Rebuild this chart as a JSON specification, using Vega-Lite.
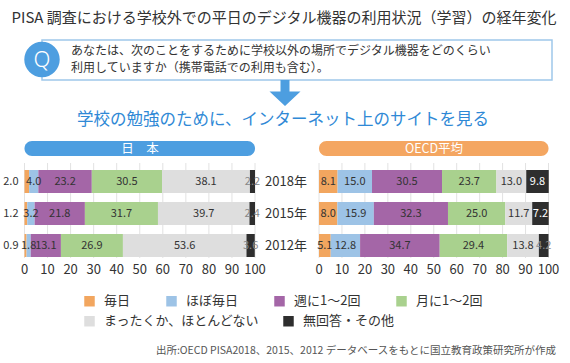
{
  "$schema": "https://vega.github.io/schema/vega-lite/v6.json",
  "width": 570,
  "height": 258,
  "padding": 0,
  "background": "white",
  "config": {
    "font": "Noto Sans CJK JP",
    "view": {"stroke": null},
    "legend": {"labelFont": "Noto Sans CJK JP"},
    "text": {"font": "Noto Sans CJK JP"}
  },
  "datasets": {
    "ticks": [{"t": 0}, {"t": 10}, {"t": 20}, {"t": 30}, {"t": 40}, {"t": 50}, {"t": 60}, {"t": 70}, {"t": 80}, {"t": 90}, {"t": 100}]
  },
  "data": {
    "values": [
      {"c": "日本", "y": "2018年", "cat": "毎日", "v": 2.0},
      {"c": "日本", "y": "2018年", "cat": "ほぼ毎日", "v": 4.0},
      {"c": "日本", "y": "2018年", "cat": "週に1～2回", "v": 23.2},
      {"c": "日本", "y": "2018年", "cat": "月に1～2回", "v": 30.5},
      {"c": "日本", "y": "2018年", "cat": "まったくか、ほとんどない", "v": 38.1},
      {"c": "日本", "y": "2018年", "cat": "無回答・その他", "v": 2.2},
      {"c": "日本", "y": "2015年", "cat": "毎日", "v": 1.2},
      {"c": "日本", "y": "2015年", "cat": "ほぼ毎日", "v": 3.2},
      {"c": "日本", "y": "2015年", "cat": "週に1～2回", "v": 21.8},
      {"c": "日本", "y": "2015年", "cat": "月に1～2回", "v": 31.7},
      {"c": "日本", "y": "2015年", "cat": "まったくか、ほとんどない", "v": 39.7},
      {"c": "日本", "y": "2015年", "cat": "無回答・その他", "v": 2.4},
      {"c": "日本", "y": "2012年", "cat": "毎日", "v": 0.9},
      {"c": "日本", "y": "2012年", "cat": "ほぼ毎日", "v": 1.8},
      {"c": "日本", "y": "2012年", "cat": "週に1～2回", "v": 13.1},
      {"c": "日本", "y": "2012年", "cat": "月に1～2回", "v": 26.9},
      {"c": "日本", "y": "2012年", "cat": "まったくか、ほとんどない", "v": 53.6},
      {"c": "日本", "y": "2012年", "cat": "無回答・その他", "v": 3.6},
      {"c": "OECD平均", "y": "2018年", "cat": "毎日", "v": 8.1},
      {"c": "OECD平均", "y": "2018年", "cat": "ほぼ毎日", "v": 15.0},
      {"c": "OECD平均", "y": "2018年", "cat": "週に1～2回", "v": 30.5},
      {"c": "OECD平均", "y": "2018年", "cat": "月に1～2回", "v": 23.7},
      {"c": "OECD平均", "y": "2018年", "cat": "まったくか、ほとんどない", "v": 13.0},
      {"c": "OECD平均", "y": "2018年", "cat": "無回答・その他", "v": 9.8},
      {"c": "OECD平均", "y": "2015年", "cat": "毎日", "v": 8.0},
      {"c": "OECD平均", "y": "2015年", "cat": "ほぼ毎日", "v": 15.9},
      {"c": "OECD平均", "y": "2015年", "cat": "週に1～2回", "v": 32.3},
      {"c": "OECD平均", "y": "2015年", "cat": "月に1～2回", "v": 25.0},
      {"c": "OECD平均", "y": "2015年", "cat": "まったくか、ほとんどない", "v": 11.7},
      {"c": "OECD平均", "y": "2015年", "cat": "無回答・その他", "v": 7.2},
      {"c": "OECD平均", "y": "2012年", "cat": "毎日", "v": 5.1},
      {"c": "OECD平均", "y": "2012年", "cat": "ほぼ毎日", "v": 12.8},
      {"c": "OECD平均", "y": "2012年", "cat": "週に1～2回", "v": 34.7},
      {"c": "OECD平均", "y": "2012年", "cat": "月に1～2回", "v": 29.4},
      {"c": "OECD平均", "y": "2012年", "cat": "まったくか、ほとんどない", "v": 13.8},
      {"c": "OECD平均", "y": "2012年", "cat": "無回答・その他", "v": 4.2}
    ]
  },
  "resolve": {"scale": {"x": "independent"}, "axis": {"x": "independent"}},
  "layer": [
    {
      "data": {"values": [{}]},
      "mark": {"type": "text", "text": "PISA 調査における学校外での平日のデジタル機器の利用状況（学習）の経年変化", "fontSize": 15, "color": "#333333", "align": "center", "baseline": "middle"},
      "encoding": {"x": {"value": 284}, "y": {"value": 18}}
    },
    {
      "data": {"values": [{}]},
      "mark": {"type": "rect", "fill": "white", "stroke": "#9fc8ea", "strokeWidth": 1.5},
      "encoding": {"x": {"value": 42}, "x2": {"value": 552}, "y": {"value": 40}, "y2": {"value": 80}}
    },
    {
      "data": {"values": [{}]},
      "mark": {"type": "point", "shape": "circle", "size": 1257, "filled": true, "color": "#4d9ee0", "opacity": 1},
      "encoding": {"x": {"value": 42}, "y": {"value": 59.5}}
    },
    {
      "data": {"values": [{}]},
      "mark": {"type": "text", "text": "Q", "font": "Noto Sans", "fontWeight": 300, "fontSize": 22, "color": "white", "align": "center", "baseline": "middle"},
      "encoding": {"x": {"value": 42}, "y": {"value": 59.5}}
    },
    {
      "data": {"values": [{}]},
      "mark": {"type": "text", "text": "あなたは、次のことをするために学校以外の場所でデジタル機器をどのくらい", "fontSize": 12, "color": "#333333", "align": "left", "baseline": "middle"},
      "encoding": {"x": {"value": 71}, "y": {"value": 50.5}}
    },
    {
      "data": {"values": [{}]},
      "mark": {"type": "text", "text": "利用していますか（携帯電話での利用も含む）。", "fontSize": 12, "color": "#333333", "align": "left", "baseline": "middle"},
      "encoding": {"x": {"value": 71}, "y": {"value": 68}}
    },
    {
      "data": {"values": [{}]},
      "mark": {"type": "point", "shape": "M-0.29,-0.84L0.29,-0.84L0.29,-0.1L1,-0.1L0,0.84L-1,-0.1L-0.29,-0.1Z", "size": 961, "filled": true, "color": "#4d9ee0", "opacity": 1, "strokeWidth": 0},
      "encoding": {"x": {"value": 285}, "y": {"value": 93}}
    },
    {
      "data": {"values": [{}]},
      "mark": {"type": "text", "text": "学校の勉強のために、インターネット上のサイトを見る", "fontSize": 16.5, "color": "#2f89d6", "align": "center", "baseline": "middle"},
      "encoding": {"x": {"value": 283}, "y": {"value": 120}}
    },
    {
      "data": {"values": [{}]},
      "mark": {"type": "rect", "cornerRadius": 7.5, "color": "#4d9ee0"},
      "encoding": {"x": {"value": 24.5}, "x2": {"value": 255}, "y": {"value": 141}, "y2": {"value": 156}}
    },
    {
      "data": {"values": [{}]},
      "mark": {"type": "text", "text": "日　本", "color": "white", "fontSize": 12.5, "baseline": "middle", "align": "center"},
      "encoding": {"x": {"value": 140}, "y": {"value": 148.5}}
    },
    {
      "data": {"values": [{}]},
      "mark": {"type": "rect", "cornerRadius": 7.5, "color": "#f4a661"},
      "encoding": {"x": {"value": 319}, "x2": {"value": 548.5}, "y": {"value": 141}, "y2": {"value": 156}}
    },
    {
      "data": {"values": [{}]},
      "mark": {"type": "text", "text": "OECD平均", "color": "white", "fontSize": 12.5, "baseline": "middle", "align": "center"},
      "encoding": {"x": {"value": 434}, "y": {"value": 148.5}}
    },
    {
      "data": {"values": [{}]},
      "mark": {"type": "text", "text": "出所:OECD PISA2018、2015、2012 データベースをもとに国立教育政策研究所が作成", "fontSize": 10.5, "color": "#555555", "align": "right", "baseline": "middle"},
      "encoding": {"x": {"value": 556}, "y": {"value": 351}}
    },
    {
      "transform": [
        {"filter": "datum.c === '日本'"},
        {"stack": "v", "groupby": ["c", "y"], "as": ["x0", "x1"]}
      ],
      "encoding": {
        "y": {
          "field": "y", "type": "nominal", "sort": ["2018年", "2015年", "2012年"],
          "scale": {"range": [165.5, 261.5], "paddingInner": 0.28, "paddingOuter": 0.14},
          "axis": null
        }
      },
      "layer": [
        {
          "data": {"name": "ticks"},
          "mark": {"type": "rule", "color": "#e2e2e2", "strokeWidth": 1},
          "encoding": {
            "x": {"field": "t", "type": "quantitative", "axis": null, "scale": {"domain": [0, 100], "range": [24.5, 255], "nice": false, "zero": false}},
            "y": {"value": 163},
            "y2": {"value": 258}
          }
        },
        {
          "data": {"name": "ticks"},
          "mark": {"type": "text", "fontSize": 13, "color": "#333333", "baseline": "middle", "align": "center"},
          "encoding": {
            "x": {"field": "t", "type": "quantitative", "axis": null},
            "y": {"value": 270},
            "text": {"field": "t", "type": "quantitative"}
          }
        },
        {
          "transform": [{"filter": {"field": "cat", "oneOf": ["毎日", "ほぼ毎日", "週に1～2回", "月に1～2回"]}}],
          "mark": {"type": "bar"},
          "encoding": {
            "x": {"field": "x0", "type": "quantitative", "axis": null},
            "x2": {"field": "x1"},
            "fill": {
              "field": "cat", "type": "nominal",
              "scale": {"domain": ["毎日", "ほぼ毎日", "週に1～2回", "月に1～2回"], "range": ["#f2a65f", "#9dc3e6", "#a466a7", "#a9d18e"]},
              "legend": {"title": null, "orient": "none", "legendX": 83, "legendY": 294.5, "direction": "horizontal", "columns": 4, "symbolType": "square", "symbolSize": 110, "symbolStrokeWidth": 0, "labelFontSize": 13, "labelColor": "#333333", "labelOffset": 8, "columnPadding": 34, "padding": 0, "labelLimit": 300}
            }
          }
        },
        {
          "transform": [{"filter": {"field": "cat", "oneOf": ["まったくか、ほとんどない", "無回答・その他"]}}],
          "mark": {"type": "bar"},
          "encoding": {
            "x": {"field": "x0", "type": "quantitative", "axis": null},
            "x2": {"field": "x1"},
            "color": {
              "field": "cat", "type": "nominal",
              "scale": {"domain": ["まったくか、ほとんどない", "無回答・その他"], "range": ["#dedede", "#2e2e2e"]},
              "legend": {"title": null, "orient": "none", "legendX": 83, "legendY": 314.5, "direction": "horizontal", "columns": 2, "symbolType": "square", "symbolSize": 110, "symbolStrokeWidth": 0, "labelFontSize": 13, "labelColor": "#333333", "labelOffset": 8, "columnPadding": 22, "padding": 0, "labelLimit": 300}
            }
          }
        },
        {
          "transform": [
            {"filter": "datum.cat !== '毎日'"},
            {"fold": ["x0", "x1"], "as": ["k", "xv"]},
            {"aggregate": [{"op": "mean", "field": "xv", "as": "xm"}], "groupby": ["y", "cat", "v"]}
          ],
          "mark": {"type": "text", "fontSize": 11, "baseline": "middle", "align": "center"},
          "encoding": {
            "x": {"field": "xm", "type": "quantitative", "axis": null},
            "text": {"field": "v", "type": "quantitative", "format": ".1f"},
            "color": {
              "condition": [
                {"test": "datum.cat === '無回答・その他' && datum.v >= 5", "value": "white"},
                {"test": "datum.cat === '無回答・その他'", "value": "#888888"}
              ],
              "value": "#333333"
            }
          }
        },
        {
          "transform": [{"filter": "datum.cat === '毎日'"}],
          "mark": {"type": "text", "fontSize": 11, "baseline": "middle", "align": "right", "dx": -6, "color": "#333333"},
          "encoding": {
            "x": {"field": "x0", "type": "quantitative", "axis": null},
            "text": {"field": "v", "type": "quantitative", "format": ".1f"}
          }
        },
        {
          "transform": [{"filter": "datum.cat === '毎日'"}],
          "mark": {"type": "text", "fontSize": 13, "baseline": "middle", "align": "center", "color": "#333333"},
          "encoding": {
            "x": {"value": 286},
            "text": {"field": "y", "type": "nominal"}
          }
        }
      ]
    },
    {
      "transform": [
        {"filter": "datum.c === 'OECD平均'"},
        {"stack": "v", "groupby": ["c", "y"], "as": ["x0", "x1"]}
      ],
      "encoding": {
        "y": {
          "field": "y", "type": "nominal", "sort": ["2018年", "2015年", "2012年"],
          "scale": {"range": [165.5, 261.5], "paddingInner": 0.28, "paddingOuter": 0.14},
          "axis": null
        }
      },
      "layer": [
        {
          "data": {"name": "ticks"},
          "mark": {"type": "rule", "color": "#e2e2e2", "strokeWidth": 1},
          "encoding": {
            "x": {"field": "t", "type": "quantitative", "axis": null, "scale": {"domain": [0, 100], "range": [319, 548.5], "nice": false, "zero": false}},
            "y": {"value": 163},
            "y2": {"value": 258}
          }
        },
        {
          "data": {"name": "ticks"},
          "mark": {"type": "text", "fontSize": 13, "color": "#333333", "baseline": "middle", "align": "center"},
          "encoding": {
            "x": {"field": "t", "type": "quantitative", "axis": null},
            "y": {"value": 270},
            "text": {"field": "t", "type": "quantitative"}
          }
        },
        {
          "transform": [{"filter": {"field": "cat", "oneOf": ["毎日", "ほぼ毎日", "週に1～2回", "月に1～2回"]}}],
          "mark": {"type": "bar"},
          "encoding": {
            "x": {"field": "x0", "type": "quantitative", "axis": null},
            "x2": {"field": "x1"},
            "fill": {
              "field": "cat", "type": "nominal",
              "scale": {"domain": ["毎日", "ほぼ毎日", "週に1～2回", "月に1～2回"], "range": ["#f2a65f", "#9dc3e6", "#a466a7", "#a9d18e"]},
              "legend": {"title": null, "orient": "none", "legendX": 83, "legendY": 294.5, "direction": "horizontal", "columns": 4, "symbolType": "square", "symbolSize": 110, "symbolStrokeWidth": 0, "labelFontSize": 13, "labelColor": "#333333", "labelOffset": 8, "columnPadding": 34, "padding": 0, "labelLimit": 300}
            }
          }
        },
        {
          "transform": [{"filter": {"field": "cat", "oneOf": ["まったくか、ほとんどない", "無回答・その他"]}}],
          "mark": {"type": "bar"},
          "encoding": {
            "x": {"field": "x0", "type": "quantitative", "axis": null},
            "x2": {"field": "x1"},
            "color": {
              "field": "cat", "type": "nominal",
              "scale": {"domain": ["まったくか、ほとんどない", "無回答・その他"], "range": ["#dedede", "#2e2e2e"]},
              "legend": {"title": null, "orient": "none", "legendX": 83, "legendY": 314.5, "direction": "horizontal", "columns": 2, "symbolType": "square", "symbolSize": 110, "symbolStrokeWidth": 0, "labelFontSize": 13, "labelColor": "#333333", "labelOffset": 8, "columnPadding": 22, "padding": 0, "labelLimit": 300}
            }
          }
        },
        {
          "transform": [
            {"fold": ["x0", "x1"], "as": ["k", "xv"]},
            {"aggregate": [{"op": "mean", "field": "xv", "as": "xm"}], "groupby": ["y", "cat", "v"]}
          ],
          "mark": {"type": "text", "fontSize": 11, "baseline": "middle", "align": "center"},
          "encoding": {
            "x": {"field": "xm", "type": "quantitative", "axis": null},
            "text": {"field": "v", "type": "quantitative", "format": ".1f"},
            "color": {
              "condition": [
                {"test": "datum.cat === '無回答・その他' && datum.v >= 5", "value": "white"},
                {"test": "datum.cat === '無回答・その他'", "value": "#888888"}
              ],
              "value": "#333333"
            }
          }
        }
      ]
    }
  ]
}
